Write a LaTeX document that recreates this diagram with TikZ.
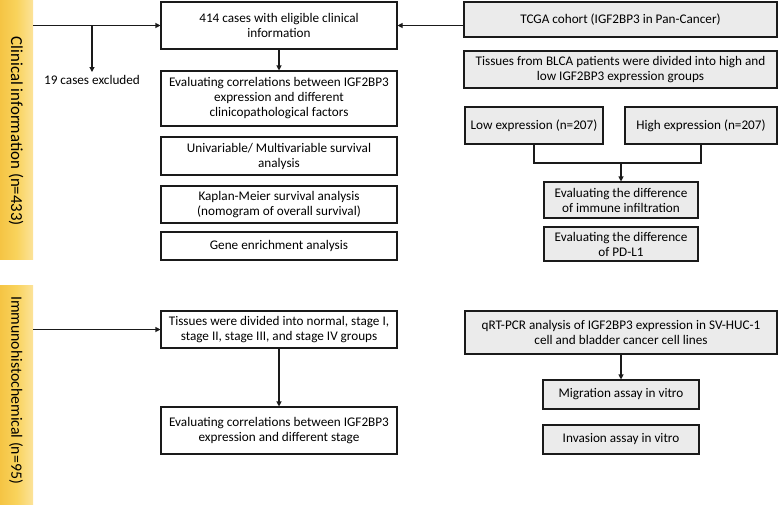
\documentclass[tikz,border=0pt]{standalone}
\usepackage{fontspec}
\setmainfont{Carlito}
\usetikzlibrary{arrows.meta}
\definecolor{barY}{HTML}{F9D35C}
\definecolor{barL}{HTML}{F5C444}
\definecolor{barR}{HTML}{FCE39A}
\definecolor{boxG}{HTML}{EBEBEB}
\definecolor{lineK}{HTML}{1A1A1A}
\tikzset{
  wbox/.style={draw=lineK, line width=1.1pt, fill=white, align=center, inner sep=0pt,
    font=\fontsize{13.2}{15}\selectfont},
  gbox/.style={wbox, fill=boxG},
  ybar/.style={draw=none, inner sep=0pt, left color=barL, right color=barR, middle color=barY},
  bartext/.style={rotate=-90, inner sep=0pt},
  plain/.style={font=\fontsize{13.2}{15}\selectfont, inner sep=3pt},
  conn/.style={line width=1.1pt, draw=lineK},
  arr/.style={conn, -{Triangle[length=5pt,width=5pt]}},
}
\begin{document}
\begin{tikzpicture}[x=1pt,y=-1pt]
\path[use as bounding box] (0,0) rectangle (778,504);

% side bars
\node[ybar, minimum width=33pt, minimum height=259pt] (bar1) at (16.5,129.5) {};
\node[bartext, font=\fontsize{16.8}{18}\selectfont] (bar1t) at (16,131.5) {Clinical information (n=433)};
\node[ybar, minimum width=33pt, minimum height=219pt] (bar2) at (16.5,394.5) {};
\node[bartext, font=\fontsize{15.8}{18}\selectfont] (bar2t) at (16,390) {Immunohistochemical (n=95)};

% left column
\node[wbox, minimum width=236pt, minimum height=47pt] (b1) at (279,25.5) {414 cases with eligible clinical\\information};
\node[wbox, minimum width=236pt, minimum height=55pt] (b2) at (279,98.5) {Evaluating correlations between IGF2BP3\\expression and different\\clinicopathological factors};
\node[wbox, minimum width=236pt, minimum height=38pt] (b3) at (279,156) {Univariable/ Multivariable survival\\analysis};
\node[wbox, minimum width=236pt, minimum height=37pt] (b4) at (279,204.5) {Kaplan-Meier survival analysis\\(nomogram of overall survival)};
\node[wbox, minimum width=236pt, minimum height=28pt] (b5) at (279,246) {Gene enrichment analysis};
\node[wbox, minimum width=236pt, minimum height=37pt] (b6) at (279,329.5) {Tissues were divided into normal, stage I,\\stage II, stage III, and stage IV groups};
\node[wbox, minimum width=236pt, minimum height=47pt] (b7) at (279,430.5) {Evaluating correlations between IGF2BP3\\expression and different stage};

\node[plain, anchor=north] (ex) at (92,72) {19 cases excluded};

% right column
\node[gbox, minimum width=313pt, minimum height=35pt] (t1) at (620.5,19.5) {TCGA cohort (IGF2BP3 in Pan-Cancer)};
\node[gbox, minimum width=313pt, minimum height=37pt] (t2) at (620.5,69.5) {Tissues from BLCA patients were divided into high and\\low IGF2BP3 expression groups};
\node[gbox, minimum width=138pt, minimum height=37pt] (lo) at (534,125.5) {Low expression (n=207)};
\node[gbox, minimum width=152pt, minimum height=37pt] (hi) at (701,125.5) {High expression (n=207)};
\node[gbox, minimum width=154pt, minimum height=36pt] (im) at (621,200) {Evaluating the difference\\of immune infiltration};
\node[gbox, minimum width=154pt, minimum height=34pt] (pd) at (621,244) {Evaluating the difference\\of PD-L1};
\node[gbox, minimum width=312pt, minimum height=43pt] (q) at (621,332.5) {qRT-PCR analysis of IGF2BP3 expression in SV-HUC-1\\cell and bladder cancer cell lines};
\node[gbox, minimum width=156pt, minimum height=29pt] (mi) at (621,394.5) {Migration assay in vitro};
\node[gbox, minimum width=156pt, minimum height=29pt] (inv) at (621,439.5) {Invasion assay in vitro};

% connectors
\draw[arr] (bar1.east |- b1.west) -- (b1.west);
\coordinate (br) at (92,25.5);
\draw[arr] (br) -- (ex.north);
\draw[arr] (b1) -- (b2);
\draw[arr] (t1.west |- b1.east) -- (b1.east);
\coordinate (j) at (621,163);
\draw[conn] (lo.south) -- (lo.south |- j) -- (hi.south |- j) -- (hi.south);
\draw[arr] (j) -- (im.north);
\draw[arr] (bar2.east |- b6.west) -- (b6.west);
\draw[arr] (b6) -- (b7);
\draw[arr] (q) -- (mi);
\end{tikzpicture}
\end{document}
